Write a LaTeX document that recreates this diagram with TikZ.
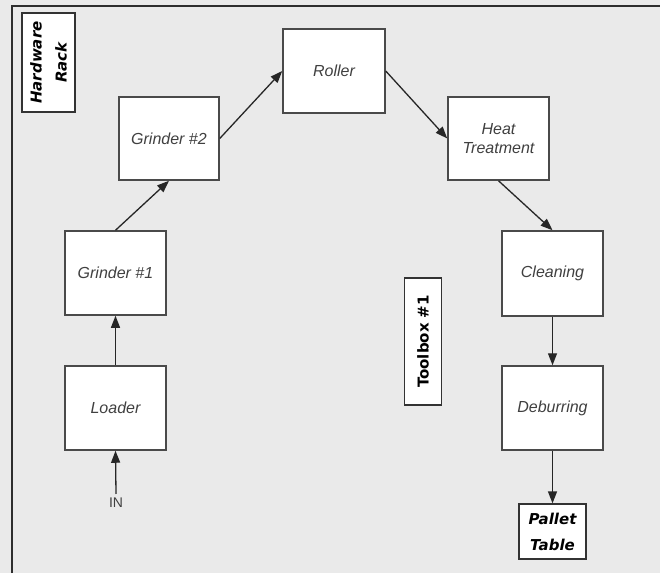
\documentclass[tikz,border=0pt]{standalone}
\usepackage{fontspec}
\setmainfont{Liberation Sans}
\newfontfamily\handfont{DejaVu Sans}
\usetikzlibrary{arrows.meta}
\definecolor{bg}{HTML}{EAEAEA}
\definecolor{boxline}{HTML}{4A4A4A}
\definecolor{txt}{HTML}{404040}
\definecolor{frameline}{HTML}{2E2E2E}
\tikzset{
  proc/.style={draw=boxline, fill=white, line width=1.5pt, minimum width=101pt, minimum height=84pt,
    inner sep=2pt, align=center, text=txt, font=\fontsize{16}{19}\selectfont\itshape},
  station/.style={draw=black!80, fill=white, line width=1.3pt, inner sep=0pt, align=center,
    text=black, font=\handfont\fontsize{15}{26}\selectfont\bfseries\itshape},
  flow/.style={draw=black!85, line width=1.3pt, -{Triangle[length=12pt,width=9pt]}}
}
\begin{document}
\begin{tikzpicture}[x=1pt,y=-1pt]
\useasboundingbox (0,0) rectangle (660,573);
\fill[bg] (0,0) rectangle (660,573);
\draw[frameline, line width=1.8pt] (12,573) -- (12,6) -- (660,6);

\node[proc, minimum width=100pt, minimum height=83pt] (g2) at (169,138.5) {Grinder \#2};
\node[proc, minimum width=102pt] (roller) at (334,71) {Roller};
\node[proc, minimum height=83pt] (heat) at (498.5,138.5) {Heat\\Treatment};
\node[proc] (g1) at (115.5,273) {Grinder \#1};
\node[proc] (loader) at (115.5,408) {Loader};
\node[proc, minimum height=85pt] (clean) at (552.5,273.5) {Cleaning};
\node[proc] (deburr) at (552.5,408) {Deburring};

\node[station, minimum width=53pt, minimum height=99pt] (rack) at (48.5,62.5) {};
\node[rotate=90, align=center, font=\handfont\fontsize{15}{25}\selectfont\bfseries\itshape] (racktxt) at (rack.center) {Hardware\\Rack};
\node[station, minimum width=37pt, minimum height=127pt] (toolbox) at (423,341.5) {};
\node[rotate=90, font=\handfont\fontsize{15}{18}\selectfont\bfseries] (tooltxt) at (toolbox.center) {Toolbox \#1};
\node[station, minimum width=67pt, minimum height=55pt] (pallet) at (552.5,531.5) {Pallet\\Table};

\node[text=txt, font=\fontsize{14}{16}\selectfont, inner sep=4pt] (in) at (116,503) {IN};

\draw[flow] (in.north) -- (loader.south);
\draw[flow] (loader.north) -- (g1.south);
\draw[flow] (g1.north) -- (g2.south);
\draw[flow] (g2.east) -- (roller.west);
\draw[flow] (roller.east) -- (heat.west);
\draw[flow] (heat.south) -- (clean.north);
\draw[flow] (clean.south) -- (deburr.north);
\draw[flow] (deburr.south) -- (pallet.north);
\end{tikzpicture}
\end{document}
